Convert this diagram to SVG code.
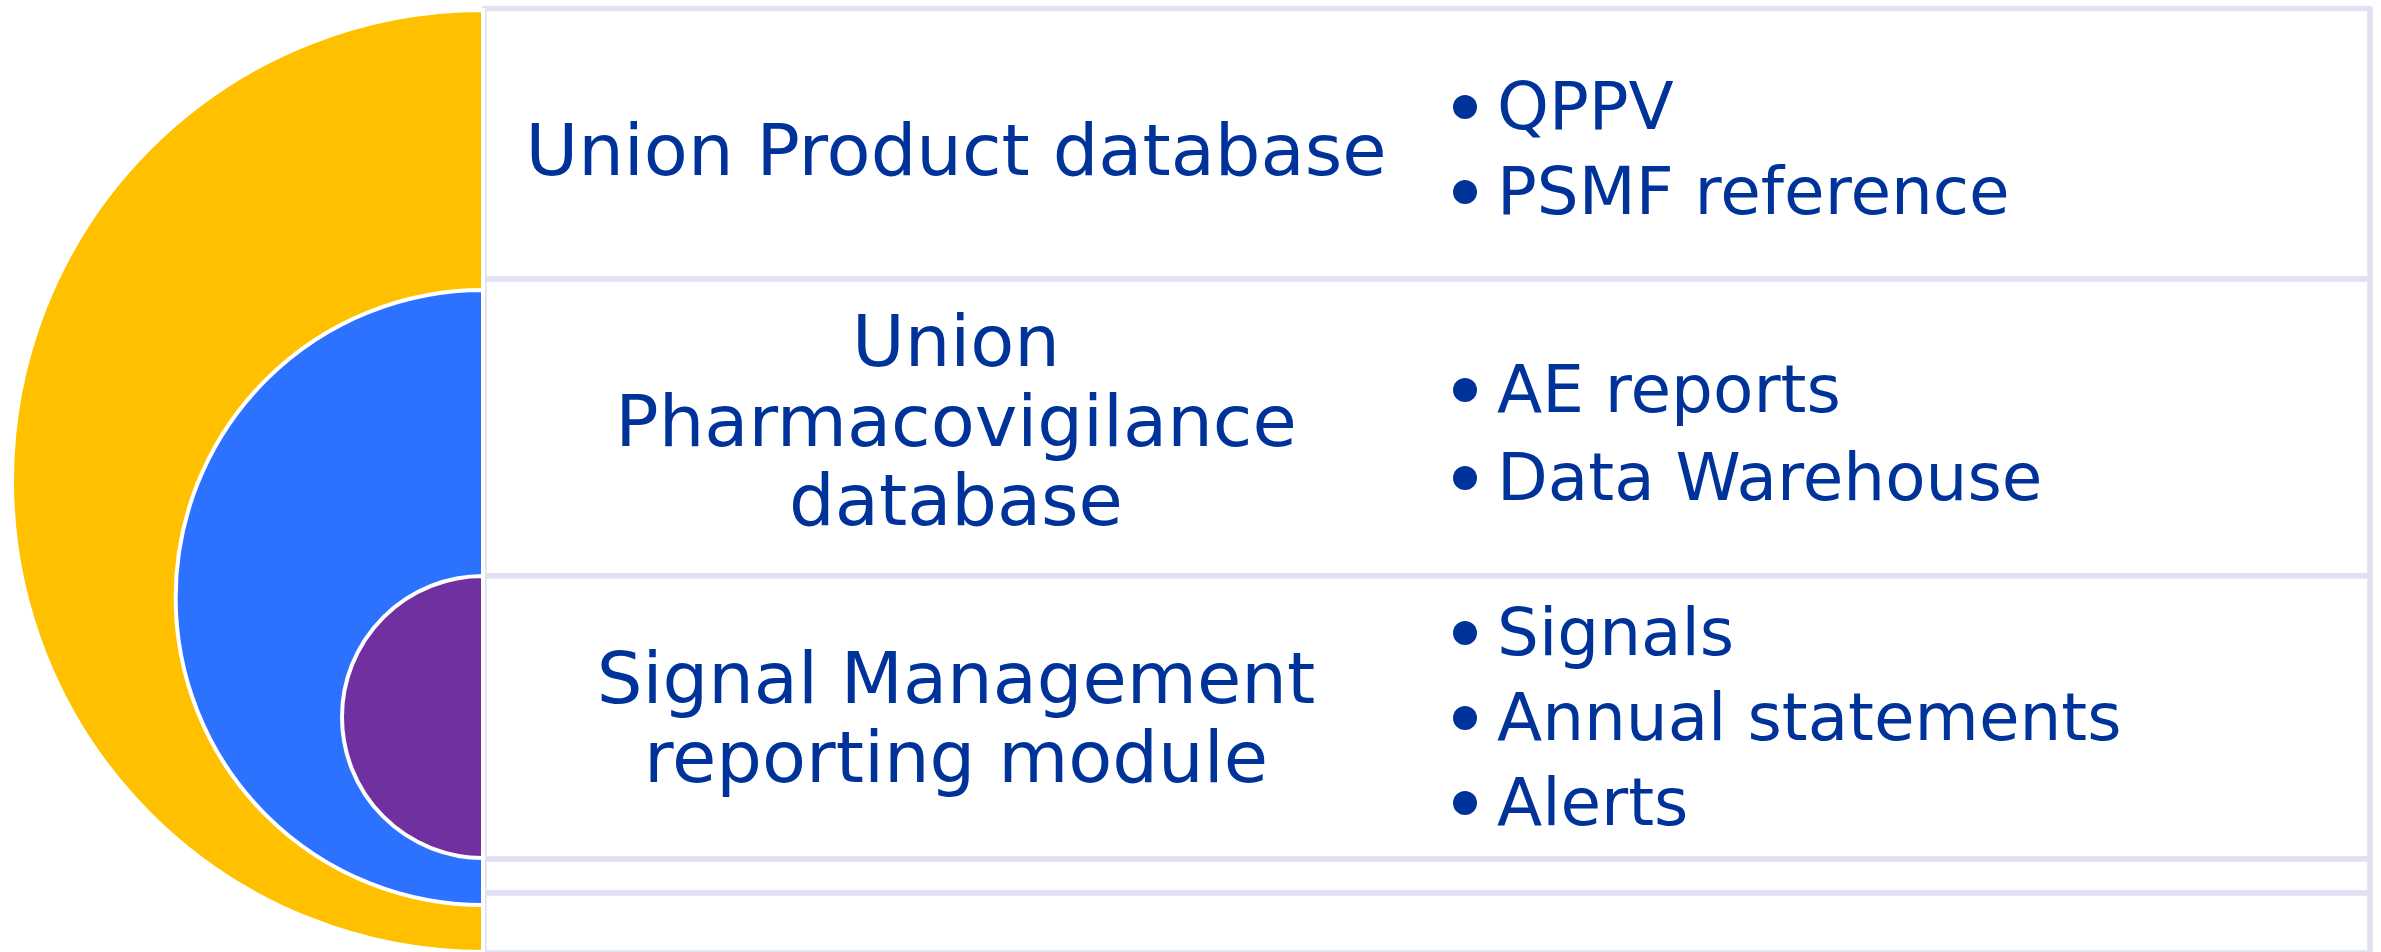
<svg xmlns="http://www.w3.org/2000/svg" width="2381" height="952" viewBox="0 0 2381 952">
<style>
.row{fill:#ffffff;stroke:#E0E1F2;stroke-width:5.5;stroke-linejoin:round}
.arc{stroke:#ffffff;stroke-width:4}
.t{font-family:"DejaVu Sans",Verdana,sans-serif;fill:#003399}
.h{font-size:72px;text-anchor:middle}
.b{font-size:66px}
.dot{fill:#003399}
</style>
<rect width="2381" height="952" fill="#ffffff"/>
<g id="rows">
<rect class="row" x="484" y="8.5" width="1886" height="270.5"/>
<rect class="row" x="484" y="279" width="1886" height="297"/>
<rect class="row" x="484" y="576" width="1886" height="283"/>
<rect class="row" x="484" y="859" width="1886" height="34"/>
<rect class="row" x="484" y="893" width="1886" height="60"/>
</g>
<g id="circles">
<path id="yellow" class="arc" fill="#FFC000" d="M483 10 A471 471 0 0 0 483 952 Z"/>
<path id="blue" class="arc" fill="#2D72FF" d="M483 290 A307 307 0 0 0 483 905 Z"/>
<path id="purple" class="arc" fill="#7030A0" d="M483 576 A141 141 0 0 0 483 858 Z"/>
</g>
<g id="row1">
<text class="t h" x="956" y="175">Union Product database</text>
<circle class="dot" cx="1465" cy="107" r="12"/>
<text class="t b" x="1497" y="129">QPPV</text>
<circle class="dot" cx="1465" cy="192" r="12"/>
<text class="t b" x="1497" y="214">PSMF reference</text>
</g>
<g id="row2">
<text class="t h" x="956" y="366">Union</text>
<text class="t h" x="956" y="446">Pharmacovigilance</text>
<text class="t h" x="956" y="525">database</text>
<circle class="dot" cx="1465" cy="390" r="12"/>
<text class="t b" x="1497" y="412">AE reports</text>
<circle class="dot" cx="1465" cy="478" r="12"/>
<text class="t b" x="1497" y="500">Data Warehouse</text>
</g>
<g id="row3">
<text class="t h" x="956" y="703">Signal Management</text>
<text class="t h" x="956" y="782">reporting module</text>
<circle class="dot" cx="1465" cy="633" r="12"/>
<text class="t b" x="1497" y="655">Signals</text>
<circle class="dot" cx="1465" cy="718" r="12"/>
<text class="t b" x="1497" y="740">Annual statements</text>
<circle class="dot" cx="1465" cy="803" r="12"/>
<text class="t b" x="1497" y="825">Alerts</text>
</g>
<g id="connectors"/>
</svg>
